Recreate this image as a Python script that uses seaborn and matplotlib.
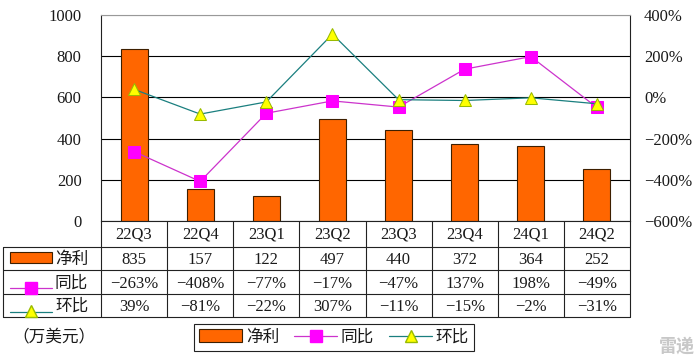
import numpy as np
import matplotlib
matplotlib.use("Agg")
import matplotlib.pyplot as plt
import seaborn as sns
from matplotlib.lines import Line2D
from matplotlib.patches import Rectangle, Patch

quarters = ["22Q3", "22Q4", "23Q1", "23Q2", "23Q3", "23Q4", "24Q1", "24Q2"]
net_profit = [835, 157, 122, 497, 440, 372, 364, 252]
yoy = [-263, -408, -77, -17, -47, 137, 198, -49]
qoq = [39, -81, -22, 307, -11, -15, -2, -31]
left_ticks = [0, 200, 400, 600, 800, 1000]
right_ticks = [-600, -400, -200, 0, 200, 400]
row_names = ["净利", "同比", "环比"]
unit_label = "（万美元）"

sns.set_theme(style="white")
FAM = ["Liberation Serif", "Noto Sans CJK SC"]
plt.rcParams["font.family"] = FAM
plt.rcParams["axes.unicode_minus"] = True

W, H = 700, 363
fig = plt.figure(figsize=(7.0, 3.63), dpi=100)
fig.patch.set_facecolor("white")

X0, X1, YT, YB = 101, 630, 15, 221
ax = fig.add_axes([X0 / W, 1 - YB / H, (X1 - X0) / W, (YB - YT) / H])

BAR = "#FF6600"
BAR_EDGE = "#3d1f00"
YOY_LINE = "#CC33CC"
YOY_MK = "#FF00FF"
QOQ_LINE = "#1A7F7F"
QOQ_MK = "#FFFF00"
QOQ_EDGE = "#99BB00"
TXT = "#1a1a1a"
FS = 12

sns.barplot(x=quarters, y=net_profit, ax=ax, color=BAR, edgecolor=BAR_EDGE,
            linewidth=0.8, width=0.41, saturation=1)
ax.set_ylim(0, 1000)
ax.set_xlim(-0.5, len(quarters) - 0.5)
ax.set_yticks(left_ticks)
ax.set_yticklabels([str(v) for v in left_ticks], fontsize=FS, color=TXT)
ax.set_xticks(range(len(quarters)))
ax.set_xticklabels(quarters, fontsize=FS, color=TXT)
ax.tick_params(axis="both", length=0)
ax.tick_params(axis="x", pad=4)
ax.tick_params(axis="y", pad=14)
ax.set_xlabel("")
ax.set_ylabel("")
ax.set_axisbelow(True)
ax.yaxis.grid(True, color="black", lw=0.8)
ax.get_ygridlines()[-1].set_color("#999999")
for s in ["left", "bottom", "right"]:
    ax.spines[s].set_color("#222222")
    ax.spines[s].set_linewidth(0.8)
ax.spines["top"].set_color("#999999")
ax.spines["top"].set_linewidth(0.8)

ax2 = ax.twinx()
xs = np.arange(len(quarters))
sns.lineplot(x=xs, y=yoy, ax=ax2, color=YOY_LINE, lw=0.9, marker="s", ms=8,
             markerfacecolor=YOY_MK, markeredgecolor=YOY_MK)
sns.lineplot(x=xs, y=qoq, ax=ax2, color=QOQ_LINE, lw=0.9, marker="^", ms=9,
             markerfacecolor=QOQ_MK, markeredgecolor=QOQ_EDGE)
ax2.set_ylim(-600, 400)
ax2.set_yticks(right_ticks)
ax2.set_yticklabels([f"{v}%".replace("-", "−") for v in right_ticks], fontsize=FS, color=TXT)
ax2.tick_params(axis="y", length=0, pad=10)
ax2.grid(False)
for s in ax2.spines.values():
    s.set_visible(False)
ax2.set_xlim(-0.5, len(quarters) - 0.5)

# table overlay
ov = fig.add_axes([0, 0, 1, 1])
ov.set_xlim(0, W)
ov.set_ylim(H, 0)
ov.axis("off")
LC = "#222222"
LW = 0.8
TL = 3
rows_y = [247, 270, 294, 317]
cw = (X1 - X0) / len(quarters)
for y in rows_y:
    ov.plot([TL, X1], [y, y], color=LC, lw=LW)
ov.plot([TL, TL], [rows_y[0], rows_y[-1]], color=LC, lw=LW)
for k in range(len(quarters) + 1):
    xk = X0 + k * cw
    ov.plot([xk, xk], [YB, rows_y[-1]], color=LC, lw=LW)

vals = [[str(v) for v in net_profit],
        [f"{v}%".replace("-", "−") for v in yoy],
        [f"{v}%".replace("-", "−") for v in qoq]]
for r in range(3):
    yc = (rows_y[r] + rows_y[r + 1]) / 2 + 1.5
    for k in range(len(quarters)):
        ov.text(X0 + (k + 0.5) * cw, yc, vals[r][k], ha="center", va="center",
                fontsize=FS, color=TXT)
    ov.text(55, yc, row_names[r], ha="left", va="center", fontsize=FS, color=TXT)

# row glyphs
ov.add_patch(Rectangle((10, 252), 42, 11, facecolor=BAR, edgecolor=BAR_EDGE, lw=0.8))
ov.plot([10, 52], [288, 288], color=YOY_LINE, lw=0.9)
ov.plot([31], [288], marker="s", ms=8, color=YOY_MK)
ov.plot([10, 52], [312, 312], color=QOQ_LINE, lw=0.9)
ov.plot([31], [311], marker="^", ms=9, markerfacecolor=QOQ_MK, markeredgecolor=QOQ_EDGE)

ov.text(12, 338, unit_label, ha="left", va="center", fontsize=FS, color=TXT)
ov.text(695, 347, "雷递", ha="right", va="center", fontsize=13, color="#c8c8c8",
        fontweight="bold")

handles = [
    Patch(facecolor=BAR, edgecolor=BAR_EDGE, lw=0.8),
    Line2D([], [], color=YOY_LINE, lw=0.9, marker="s", ms=8,
           markerfacecolor=YOY_MK, markeredgecolor=YOY_MK),
    Line2D([], [], color=QOQ_LINE, lw=0.9, marker="^", ms=9,
           markerfacecolor=QOQ_MK, markeredgecolor=QOQ_EDGE),
]
leg = fig.legend(handles, row_names, loc="center", bbox_to_anchor=(334 / W, 1 - 337.5 / H),
                 ncol=3, fontsize=FS, frameon=True, fancybox=False, framealpha=1,
                 edgecolor="#222222", handlelength=2.6, handleheight=0.8,
                 handletextpad=0.2, columnspacing=0.9, borderpad=0.3, borderaxespad=0)
leg.get_frame().set_linewidth(0.8)
for t in leg.get_texts():
    t.set_color(TXT)

fig.savefig("out.png", dpi=100)
